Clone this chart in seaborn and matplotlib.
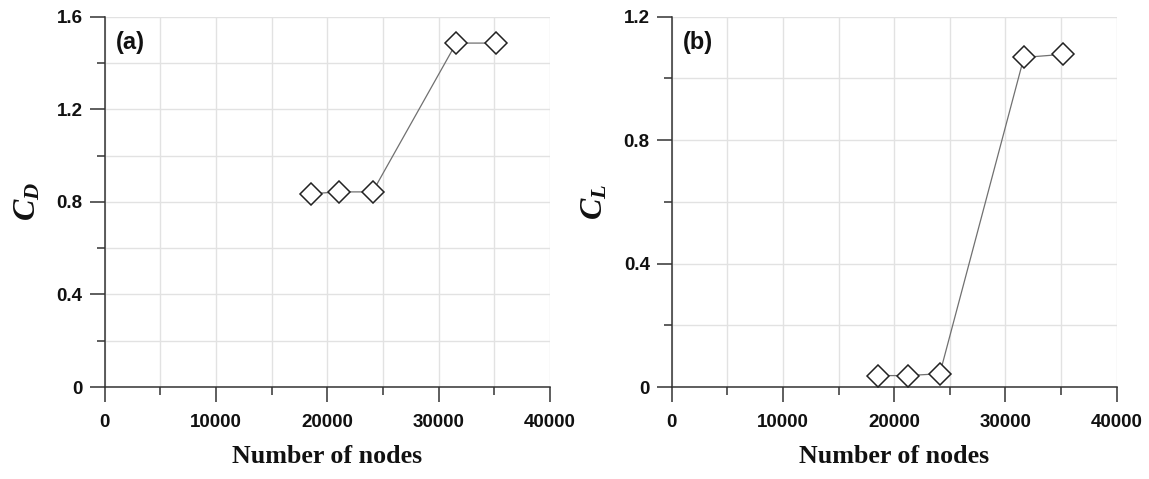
import numpy as np
import pandas as pd
import matplotlib
matplotlib.use("Agg")
import matplotlib.pyplot as plt
import seaborn as sns
from matplotlib.ticker import MultipleLocator

nodes_a = [18520, 21030, 24070, 31580, 35140]
cd_vals = [0.835, 0.843, 0.843, 1.486, 1.486]
nodes_b = [18530, 21200, 24100, 31660, 35170]
cl_vals = [0.037, 0.037, 0.043, 1.068, 1.078]
x_ticks = [0, 10000, 20000, 30000, 40000]
cd_ticks = [0, 0.4, 0.8, 1.2, 1.6]
cl_ticks = [0, 0.4, 0.8, 1.2]

sns.set_theme(style="white")
plt.rcParams['font.family'] = ['Liberation Sans', 'DejaVu Sans']
plt.rcParams['mathtext.fontset'] = 'custom'
plt.rcParams['mathtext.rm'] = 'Liberation Serif'
plt.rcParams['mathtext.it'] = 'Liberation Serif:italic'
plt.rcParams['mathtext.bf'] = 'Liberation Serif:bold'
plt.rcParams['mathtext.bfit'] = 'Liberation Serif:italic:bold'

fig = plt.figure(figsize=(11.49, 4.79), dpi=100)
W, H = 1149, 479
top, bot = 16.7, 387.0
ax1 = fig.add_axes([104.5 / W, 1 - bot / H, 445.5 / W, (bot - top) / H])
ax2 = fig.add_axes([671.7 / W, 1 - bot / H, 445.0 / W, (bot - top) / H])

def style(ax, x, y, yticks, ymax, ylabel, tag):
    df = pd.DataFrame({"x": x, "y": y})
    sns.lineplot(data=df, x="x", y="y", ax=ax, color="#707070", linewidth=0.9,
                 marker="D", markersize=11, markerfacecolor="white",
                 markeredgecolor="#222222", markeredgewidth=1.1, zorder=3)
    ax.set_xlim(0, 40000)
    ax.set_ylim(0, ymax)
    ax.set_xticks(x_ticks)
    ax.set_yticks(yticks)
    ax.set_yticklabels([("%g" % t) for t in yticks])
    ax.xaxis.set_minor_locator(MultipleLocator(5000))
    ax.yaxis.set_minor_locator(MultipleLocator(0.2))
    ax.grid(True, which="both", color="#e2e2e2", linewidth=1.0, zorder=0)
    ax.set_axisbelow(True)
    for s in ["top", "right"]:
        ax.spines[s].set_visible(False)
    for s in ["left", "bottom"]:
        ax.spines[s].set_color("#333333")
        ax.spines[s].set_linewidth(1.1)
    ax.tick_params(which="major", direction="out", length=10.8, width=1.1,
                   color="#333333", bottom=True, left=True, labelsize=13.5)
    ax.tick_params(which="minor", direction="out", length=5.8, width=1.1,
                   color="#333333", bottom=True, left=True)
    ax.tick_params(axis="x", which="major", pad=8.5)
    ax.tick_params(axis="y", which="major", pad=5)
    for lab in ax.get_xticklabels() + ax.get_yticklabels():
        lab.set_fontweight("bold")
        lab.set_color("#111111")
    ax.set_xlabel("Number of nodes", fontfamily="Liberation Serif",
                  fontweight="bold", fontsize=18.7, labelpad=10, color="#111111")
    ax.set_ylabel(ylabel, fontsize=23, labelpad=10, color="#111111")
    ax.text(0.026, 0.929, tag, transform=ax.transAxes, fontsize=17,
            fontweight="bold", ha="left", va="center", color="#111111")

style(ax1, nodes_a, cd_vals, cd_ticks, 1.6, r"$\mathbfit{C_D}$", "(a)")
style(ax2, nodes_b, cl_vals, cl_ticks, 1.2, r"$\mathbfit{C_L}$", "(b)")

fig.savefig("out.png", dpi=100)
